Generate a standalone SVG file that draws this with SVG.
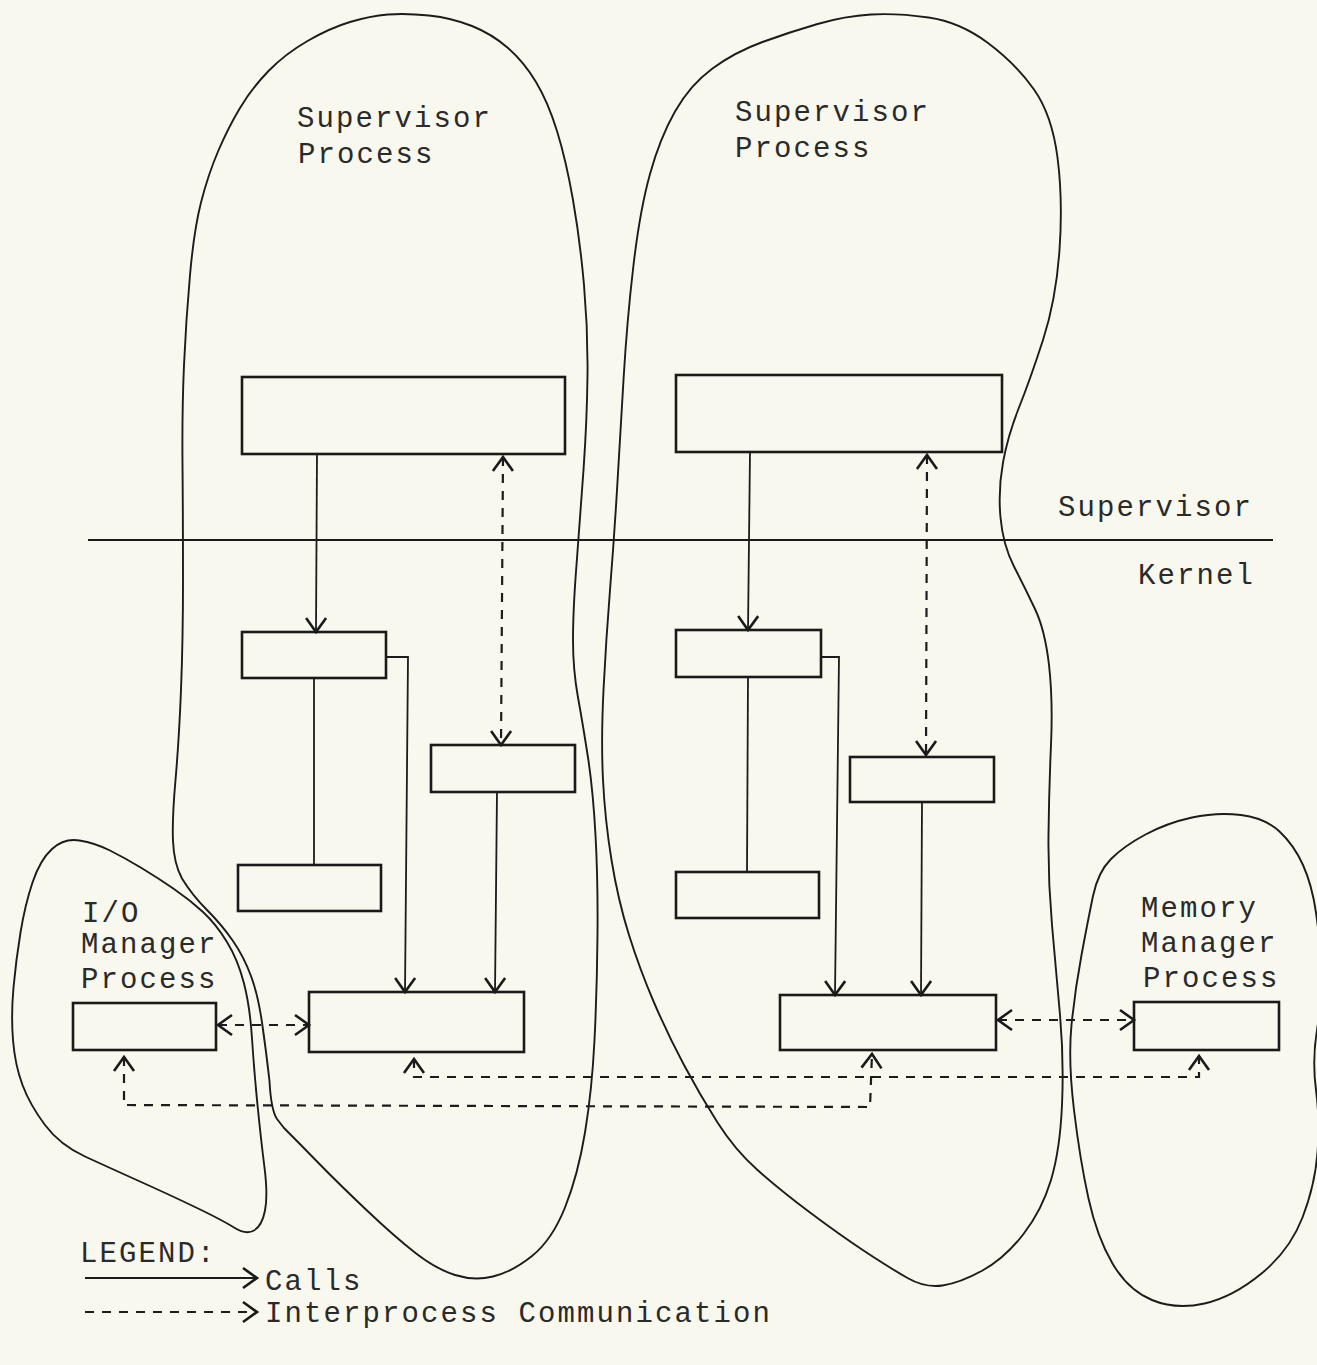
<svg xmlns="http://www.w3.org/2000/svg" width="1317" height="1365" viewBox="0 0 1317 1365">
  <style>
    .bg { fill: #f8f8ee; }
    .blob { fill: none; stroke: #1c1c1c; stroke-width: 1.9; stroke-linejoin: round; }
    .box { fill: none; stroke: #1a1a1a; stroke-width: 2.6; }
    .call { fill: none; stroke: #1c1c1c; stroke-width: 1.8; }
    .ipc { fill: none; stroke: #1c1c1c; stroke-width: 2.2; stroke-dasharray: 9 8; }
    .rule { fill: none; stroke: #1a1a1a; stroke-width: 2.2; }
    .lbl { font-family: "Liberation Mono", "DejaVu Sans Mono", monospace; font-size: 29px; letter-spacing: 2.1px; fill: #2a2a2a; }
  </style>
  <defs>
    <marker id="ah" markerUnits="userSpaceOnUse" viewBox="-18 -13 22 26" markerWidth="22" markerHeight="26" refX="0" refY="0" orient="auto-start-reverse" overflow="visible">
      <path d="M -14 -10 L 0 0 L -14 10" fill="none" stroke="#1a1a1a" stroke-width="2.6" stroke-dasharray="none"/>
    </marker>
  </defs>

  <rect class="bg" x="0" y="0" width="1317" height="1365"/>

  <!-- process regions -->
  <g id="supervisor-process-left">
    <path class="blob" d="M 429 15.5 Q 452 18 472 26 Q 492 34 508 48 Q 524 62 536 82 Q 548 102 557 131 Q 566 160 573 200 Q 580 240 584 285 Q 588 330 587.5 375 Q 587 420 583.5 470 Q 580 520 576.5 565 Q 573 610 573 640 Q 573 670 578 697.5 Q 583 725 588 757.5 Q 593 790 595.5 835 Q 598 880 597.5 935 Q 597 990 594.5 1040 Q 592 1090 585 1132.5 Q 578 1175 565 1207.5 Q 552 1240 532 1256 Q 512 1272 493 1276.5 Q 474 1281 455 1275 Q 436 1269 415.5 1253 Q 395 1237 367.5 1211 Q 340 1185 318 1162.5 Q 300 1144 284 1128 L 277 1119 Q 271 1110 269.5 1081 Q 266 1050 262 1022.5 Q 258 995 251 976 Q 244 957 233 941 Q 222 925 207 910 Q 192 895 182 878.5 Q 174 864 173 841 Q 172 820 175.5 780 Q 179 740 181 690 Q 183 640 183 580 Q 183 520 182.5 465 Q 182 410 184 365 Q 186 320 190 275 Q 194 230 201 202.5 Q 208 175 218 151.5 Q 228 128 240 108 Q 252 88 268.5 71 Q 285 54 307.5 41 Q 330 28 350 22 Q 370 16 388 14.5 Q 406 13 429 15.5 Z"/>
    <text class="lbl" x="297" y="127">Supervisor</text>
    <text class="lbl" x="298" y="163">Process</text>
  </g>

  <g id="supervisor-process-right">
    <path class="blob" d="M 928.5 17.5 Q 960 22 988 43 Q 1016 64 1034 89.5 Q 1052 115 1057.5 157.5 Q 1063 200 1059.5 250 Q 1056 300 1043 340 Q 1030 380 1019 407.5 Q 1008 435 1003 462.5 Q 998 490 1000.5 517.5 Q 1003 545 1014 566.5 Q 1025 588 1035 609 Q 1045 630 1049 665 Q 1053 700 1051 745 Q 1049 790 1048.5 835 Q 1048 880 1052 925 Q 1056 970 1060 1015 Q 1064 1060 1062 1105 Q 1060 1150 1051 1180 Q 1042 1210 1023.5 1234 Q 1005 1258 982.5 1270.5 Q 960 1283 942.5 1285.5 Q 925 1288 907.5 1278 Q 890 1268 865 1251.5 Q 840 1235 810 1212.5 Q 780 1190 757.5 1170 Q 735 1150 717.5 1122.5 Q 700 1095 684 1065 Q 668 1035 654 1002.5 Q 640 970 629 935 Q 618 900 611.5 860 Q 605 820 603 780 Q 601 740 603.5 690 Q 606 640 610 590 Q 614 540 617 490 Q 620 440 623.5 380 Q 627 320 633.5 265 Q 640 210 650 174 Q 660 138 675 111.5 Q 690 85 712.5 68.5 Q 735 52 762.5 42 Q 790 32 817.5 24 Q 845 16 871 14.5 Q 897 13 928.5 17.5 Z"/>
    <text class="lbl" x="735" y="121">Supervisor</text>
    <text class="lbl" x="735" y="157">Process</text>
  </g>

  <g id="io-manager-process">
    <path class="blob" d="M 79.5 840.5 Q 95 843 110 850.5 Q 125 858 141.5 868 Q 158 878 174 889 Q 190 900 203 912 Q 216 924 227 942 Q 238 960 244 983.5 Q 250 1007 252 1038.5 Q 254 1070 257.5 1105 Q 261 1140 264.5 1167.5 Q 268 1195 265 1210.5 Q 262 1226 254 1230.5 Q 246 1235 234 1227.5 Q 222 1220 196 1207.5 Q 170 1195 140 1181.5 Q 110 1168 85 1156.5 Q 60 1145 45 1125 Q 30 1105 22.5 1085 Q 15 1065 13 1040 Q 11 1015 13.5 987.5 Q 16 960 20.5 932.5 Q 25 905 32.5 882.5 Q 40 860 52 849 Q 64 838 79.5 840.5 Z"/>
    <text class="lbl" x="82" y="922">I/O</text>
    <text class="lbl" x="81" y="953">Manager</text>
    <text class="lbl" x="81" y="988">Process</text>
  </g>

  <g id="memory-manager-process">
    <path class="blob" d="M 1241 815 Q 1265 818 1279.5 831.5 Q 1294 845 1303 865 Q 1312 885 1316 912.5 Q 1320 940 1321 970 Q 1322 1000 1317 1030 Q 1312 1060 1316 1090 Q 1320 1120 1317.5 1152.5 Q 1315 1185 1302.5 1217.5 Q 1290 1250 1261.5 1273.5 Q 1233 1297 1204.5 1303.5 Q 1176 1310 1152 1300 Q 1128 1290 1112.5 1263.5 Q 1097 1237 1088.5 1198.5 Q 1080 1160 1074 1110 Q 1068 1060 1071.5 1025 Q 1075 990 1081.5 955 Q 1088 920 1093 896 Q 1098 872 1111 859 Q 1124 846 1145.5 834.5 Q 1167 823 1192 817.5 Q 1217 812 1241 815 Z"/>
    <text class="lbl" x="1141" y="917">Memory</text>
    <text class="lbl" x="1141" y="952">Manager</text>
    <text class="lbl" x="1143" y="987">Process</text>
  </g>

  <!-- supervisor / kernel boundary -->
  <g id="layer-boundary">
    <line class="rule" x1="88" y1="540" x2="1273" y2="540"/>
    <text class="lbl" x="1058" y="516">Supervisor</text>
    <text class="lbl" x="1138" y="584">Kernel</text>
  </g>

  <!-- modules, left process -->
  <g id="l-top"><rect class="box" x="242" y="377" width="323" height="77"/></g>
  <g id="l-mid1"><rect class="box" x="242" y="632" width="144" height="46"/></g>
  <g id="l-low"><rect class="box" x="238" y="865" width="143" height="46"/></g>
  <g id="l-mid2"><rect class="box" x="431" y="745" width="144" height="47"/></g>
  <g id="l-bottom"><rect class="box" x="309" y="992" width="215" height="60"/></g>

  <!-- modules, right process -->
  <g id="r-top"><rect class="box" x="676" y="375" width="326" height="77"/></g>
  <g id="r-mid1"><rect class="box" x="676" y="630" width="145" height="47"/></g>
  <g id="r-low"><rect class="box" x="676" y="872" width="143" height="46"/></g>
  <g id="r-mid2"><rect class="box" x="850" y="757" width="144" height="45"/></g>
  <g id="r-bottom"><rect class="box" x="780" y="995" width="216" height="55"/></g>

  <!-- manager modules -->
  <g id="io-module"><rect class="box" x="73" y="1003" width="143" height="47"/></g>
  <g id="mem-module"><rect class="box" x="1134" y="1002" width="145" height="48"/></g>

  <!-- connectors -->
  <g id="connectors">
    <!-- calls -->
    <path class="call" d="M 317 454 L 316 632" marker-end="url(#ah)"/>
    <path class="call" d="M 386 657 L 408 657 L 405 992" marker-end="url(#ah)"/>
    <path class="call" d="M 314 678 L 314 865"/>
    <path class="call" d="M 497 792 L 495 992" marker-end="url(#ah)"/>
    <path class="call" d="M 750 452 L 748 630" marker-end="url(#ah)"/>
    <path class="call" d="M 821 657 L 839 657 L 835 995" marker-end="url(#ah)"/>
    <path class="call" d="M 748 677 L 747 872"/>
    <path class="call" d="M 922 802 L 921 995" marker-end="url(#ah)"/>

    <!-- interprocess communication -->
    <path class="ipc" d="M 503 457 L 501 745" marker-start="url(#ah)" marker-end="url(#ah)"/>
    <path class="ipc" d="M 927 455 L 926 755" marker-start="url(#ah)" marker-end="url(#ah)"/>
    <path class="ipc" d="M 218 1025 L 309 1025" marker-start="url(#ah)" marker-end="url(#ah)"/>
    <path class="ipc" d="M 998 1020 L 1134 1020" marker-start="url(#ah)" marker-end="url(#ah)"/>
    <path class="ipc" d="M 124 1057 L 124 1105 L 870 1107 L 872 1054" marker-start="url(#ah)" marker-end="url(#ah)"/>
    <path class="ipc" d="M 414 1059 L 414 1077 L 1199 1077 L 1199 1056" marker-start="url(#ah)" marker-end="url(#ah)"/>
  </g>

  <!-- legend -->
  <g id="legend">
    <text class="lbl" x="80" y="1262">LEGEND:</text>
    <path class="call" d="M 85 1278 L 257 1278" marker-end="url(#ah)"/>
    <text class="lbl" x="265" y="1290">Calls</text>
    <path class="ipc" d="M 85 1312 L 257 1312" marker-end="url(#ah)"/>
    <text class="lbl" x="265" y="1322">Interprocess Communication</text>
  </g>
</svg>
